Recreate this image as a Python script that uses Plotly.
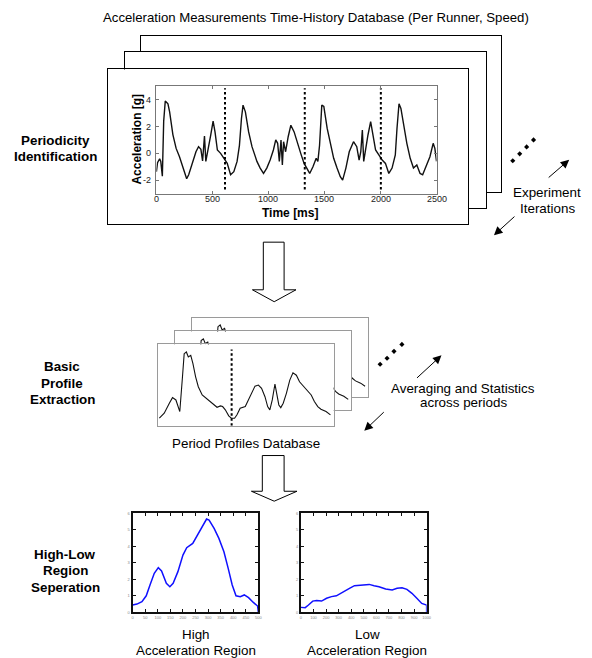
import plotly.graph_objects as go

W, H = 592, 658
FONT = "Arial, Liberation Sans, Helvetica, sans-serif"


def X(px):
    return px / W


def Y(py):
    return 1 - py / H


# ---------------- data ----------------
# acceleration time history (top panel)
sig_t = [0, 10, 29, 39, 53, 65, 79, 103, 118, 147, 176, 206, 235, 259, 270, 288, 323, 353, 376, 397,
         412, 429, 441, 459, 485, 506, 523, 544, 573, 603, 632, 662, 691, 720, 741, 759, 773, 794, 823, 853,
         897, 926, 956, 985, 1015, 1044, 1065, 1082, 1097, 1112, 1124, 1135, 1153, 1176, 1200, 1229, 1259, 1288, 1318, 1347,
         1368, 1397, 1426, 1441, 1456, 1476, 1494, 1524, 1553, 1582, 1612, 1641, 1662, 1691, 1721, 1759, 1788, 1809, 1824, 1838,
         1850, 1868, 1888, 1912, 1935, 1956, 1985, 2015, 2044, 2074, 2103, 2132, 2147, 2165, 2182, 2206, 2235, 2265, 2294, 2324,
         2353, 2376, 2412, 2441, 2470, 2485, 2500]
sig_a = [-1.37, -0.7, -0.4, -0.6, -1.7, 2.4, 3.9, 3.7, 3.1, 1.4, 0.37, -0.25, -1.0, -1.74, -1.9, -1.6, -0.6, 0.12, 0.5, 0.3,
         -0.57, 1.3, -0.6, 0.12, 1.37, 2.4, 1.6, 0.25, 0.0, -0.37, -0.75, -1.6, -1.37, -0.6, 0.6, 2.6, 3.6, 3.1, 1.6, 0.5,
         -0.6, -1.1, -1.5, -1.1, -0.5, 0.25, 1.0, 0.75, -0.6, 1.0, -0.87, 0.87, 0.12, 1.24, 2.1, 1.6, 0.87, 0.0, -0.75, -1.24,
         -1.5, -1.0, -0.37, -0.6, 0.6, 3.6, 3.5, 1.86, 0.6, -0.37, -1.1, -1.74, -2.0, -1.1, 0.12, 0.87, 0.5, -0.5, 0.12, 1.74,
         -0.6, 0.37, 1.37, 2.36, 1.37, 0.25, -0.12, -0.5, -0.75, -1.5, -1.1, -0.12, 1.86, 3.7, 3.35, 2.1, 0.75, -0.37, -1.1, -0.87,
         -1.5, -1.6, -0.87, -0.25, 0.75, 0.37, -0.6]
period_bounds = [612, 1324, 2003]
sig_xticks = [0, 500, 1000, 1500, 2000, 2500]
sig_xticktext = ["0", "500", "1000", "1500", "2000", "2500"]
sig_yticks = [-2, 0, 2, 4]
sig_yticktext = ["-2", "0", "2", "4"]

# one period profile (middle panel)
prof_t = [4, 24, 45, 58, 72, 83, 88, 99, 106, 115, 123, 133, 142, 153, 164, 180, 201, 221, 241, 255,
          264, 275, 289, 300, 313, 323, 336, 357, 370, 384, 397, 411, 424, 438, 449, 458, 468, 479, 487, 495,
          503, 513, 526, 540, 553, 567, 580, 598, 614, 628, 641, 655, 668, 689, 707]
prof_a = [-1.85, -1.42, -0.56, -0.08, -0.28, -1.13, -1.28, 1.71, 3.70, 3.85, 3.42, 3.56, 2.85, 1.71, 0.86, 0.15, -0.22, -0.56, -0.91, -0.79,
          -0.85, -1.13, -1.65, -1.85, -1.85, -1.56, -0.99, -0.85, -0.28, 0.43, 0.91, 1.00, 0.72, 0.00, -0.85, -1.13, -0.28, 1.09, 0.00, -0.71,
          -0.94, -0.56, 0.29, 1.43, 2.05, 1.85, 1.28, 0.86, 0.57, 0.15, -0.42, -0.85, -1.08, -1.28, -1.56]
profile_bound = 301

# high / low acceleration regions (bottom panels)
high_x = [0, 17, 37, 54, 69, 86, 102, 115, 134, 148, 161, 180, 200, 215, 239, 258, 278, 294, 304, 324,
          343, 363, 380, 396, 411, 428, 444, 461, 480, 497, 500]
high_y = [0.44, 0.50, 0.64, 1.0, 1.65, 2.36, 2.70, 2.50, 1.75, 1.55, 1.75, 2.46, 3.46, 3.91, 4.17, 4.67, 5.27, 5.64, 5.58, 5.07,
          4.47, 3.66, 2.66, 1.65, 1.0, 0.95, 1.05, 0.89, 0.6, 0.38, 0.0]
low_x = [0, 34, 60, 94, 125, 164, 204, 243, 282, 334, 386, 426, 465, 504, 543, 582, 621, 674, 726, 765,
         804, 843, 883, 922, 961, 1000, 1000]
low_y = [0.30, 0.28, 0.44, 0.68, 0.72, 0.68, 0.85, 0.95, 1.0, 1.25, 1.45, 1.61, 1.65, 1.65, 1.69, 1.61, 1.55, 1.41, 1.35, 1.45,
         1.49, 1.39, 1.15, 0.85, 0.54, 0.44, 0.0]
high_xticks = list(range(0, 501, 50))
low_xticks = list(range(0, 1001, 100))
region_yticks = [0, 1, 2, 3, 4, 5, 6]

# ---------------- figure ----------------
fig = go.Figure()
layout = {}


def add_axes(n, l, r, t, b, xr, yr, linecolor="black", lw=1.3, **kw):
    sx = "" if n == 1 else str(n)
    xa = dict(domain=[X(l), X(r)], range=xr, anchor="y" + sx, showline=True, mirror=True,
              linecolor=linecolor, linewidth=lw, showgrid=False, zeroline=False,
              showticklabels=False, ticks="", fixedrange=True)
    ya = dict(domain=[Y(b), Y(t)], range=yr, anchor="x" + sx, showline=True, mirror=True,
              linecolor=linecolor, linewidth=lw, showgrid=False, zeroline=False,
              showticklabels=False, ticks="", fixedrange=True)
    xa.update(kw.get("x", {}))
    ya.update(kw.get("y", {}))
    layout["xaxis" + sx] = xa
    layout["yaxis" + sx] = ya
    return "x" + sx, "y" + sx


def empty(ax):
    fig.add_trace(go.Scatter(x=[], y=[], xaxis=ax[0], yaxis=ax[1], hoverinfo="skip", showlegend=False))


# top stack of frames (back to front)
empty(add_axes(1, 141, 505, 33, 190, [0, 1], [0, 1]))
empty(add_axes(2, 125, 490, 49, 207, [0, 1], [0, 1]))
empty(add_axes(3, 108, 472, 67, 223, [0, 1], [0, 1]))

# acceleration signal axes (tick labels drawn as annotations below for tight spacing)
sig_ax = add_axes(
    4, 157, 440, 84, 192, [0, 2500], [-3, 5], linecolor="#777", lw=1,
    x=dict(ticks="inside", ticklen=3, tickcolor="#777", mirror="ticks", tickvals=sig_xticks),
    y=dict(ticks="inside", ticklen=3, tickcolor="#777", mirror="ticks", tickvals=sig_yticks),
)
fig.add_trace(go.Scatter(x=sig_t, y=sig_a, xaxis=sig_ax[0], yaxis=sig_ax[1], mode="lines",
                         line=dict(color="#111", width=1.4), hoverinfo="skip", showlegend=False))
for tb in period_bounds:
    fig.add_trace(go.Scatter(x=[tb, tb], y=[-2.7, 4.85], xaxis=sig_ax[0], yaxis=sig_ax[1], mode="lines",
                             line=dict(color="black", width=2, dash="2.5px,2.5px"),
                             hoverinfo="skip", showlegend=False))

# middle stack of period profiles (back to front)
mid_frames = [(5, 193, 371, 317, 397), (6, 176, 354, 331, 410), (7, 159, 336, 344, 426)]
for n, l, r, t, b in mid_frames:
    ax = add_axes(n, l, r, t, b, [0, 720], [-2.5, 4.5], linecolor="#9a9a9a", lw=1)
    fig.add_trace(go.Scatter(x=prof_t, y=prof_a, xaxis=ax[0], yaxis=ax[1], mode="lines",
                             line=dict(color="#111", width=1.1), hoverinfo="skip", showlegend=False))
    if n == 7:
        fig.add_trace(go.Scatter(x=[profile_bound, profile_bound], y=[-2.5, 4.05], xaxis=ax[0], yaxis=ax[1],
                                 mode="lines", line=dict(color="black", width=2, dash="2.5px,2.5px"),
                                 hoverinfo="skip", showlegend=False))

# bottom region panels
small = dict(size=4, color="#888", family=FONT)
for n, l, r, xs, ys, xt in [(8, 133, 260, high_x, high_y, high_xticks), (9, 303, 430, low_x, low_y, low_xticks)]:
    ax = add_axes(
        n, l, r, 514, 614, [0, xt[-1]], [0, 6], linecolor="#111", lw=2,
        x=dict(showticklabels=True, ticks="inside", ticklen=3, tickwidth=1, tickcolor="#111",
               mirror="ticks", tickvals=xt, tickfont=small),
        y=dict(showticklabels=True, ticks="inside", ticklen=3, tickwidth=1, tickcolor="#111",
               mirror="ticks", tickvals=region_yticks, tickfont=small),
    )
    fig.add_trace(go.Scatter(x=xs, y=ys, xaxis=ax[0], yaxis=ax[1], mode="lines",
                             line=dict(color="#1010ff", width=1.5), hoverinfo="skip", showlegend=False))

# ---------------- annotations ----------------
ann = []


def label(text, x, y, size=13.4, bold=False, angle=0):
    ann.append(dict(text=("<b>%s</b>" % text) if bold else text, x=X(x), y=Y(y), xref="paper", yref="paper",
                    showarrow=False, xanchor="center", yanchor="middle", textangle=angle,
                    font=dict(size=size, color="black", family=FONT)))


# tick labels of the signal axes, placed through the axes' own scales
tfont = dict(size=9, color="#222", family=FONT)
for v, txt in zip(sig_xticks, sig_xticktext):
    ann.append(dict(text=txt, x=v, y=Y(197.5), xref=sig_ax[0], yref="paper", showarrow=False,
                    xanchor="center", yanchor="middle", font=tfont))
for v, txt in zip(sig_yticks, sig_yticktext):
    ann.append(dict(text=txt, x=X(153.5), y=v, xref="paper", yref=sig_ax[1], showarrow=False,
                    xanchor="right", yanchor="middle", font=tfont))

label("Acceleration Measurements Time-History Database (Per Runner, Speed)", 318, 15, size=13.2)
label("Acceleration [g]", 137, 137, size=12, bold=True, angle=-90)
label("Time [ms]", 292, 212, size=12, bold=True)

label("Periodicity", 55, 139, bold=True)
label("Identification", 55, 155, bold=True)
label("Basic", 62, 366, bold=True)
label("Profile", 62, 383, bold=True)
label("Extraction", 62, 400, bold=True)
label("High-Low", 65, 556, bold=True)
label("Region", 65, 572, bold=True)
label("Seperation", 65, 589, bold=True)

label("Experiment", 552, 191)
label("Iterations", 552, 207)
label("Averaging and Statistics", 467, 388)
label("across periods", 467, 403)
label("Period Profiles Database", 248, 444)
label("High", 197, 636)
label("Acceleration Region", 197, 652)
label("Low", 370, 636)
label("Acceleration Region", 370, 652)


def arrow(tail, head):
    ann.append(dict(text="", x=X(head[0]), y=Y(head[1]), xref="paper", yref="paper",
                    ax=tail[0] - head[0], ay=tail[1] - head[1], axref="pixel", ayref="pixel",
                    showarrow=True, arrowhead=2, arrowsize=1.7, arrowwidth=1, arrowcolor="black",
                    standoff=0, startstandoff=0))


arrow((552, 177), (574, 158))
arrow((520, 214), (498, 234))
arrow((419, 379), (445, 355))
arrow((388, 411), (367, 431))

# ---------------- shapes ----------------
shapes = []


def hollow_arrow(xl, xr, top, neck, hl, hr, tip):
    xc = (hl + hr) / 2
    pts = [(xl, top), (xr, top), (xr, neck), (hr, neck), (xc, tip), (hl, neck), (xl, neck)]
    d = "M " + " L ".join("%.5f,%.5f" % (X(a), Y(b)) for a, b in pts) + " Z"
    shapes.append(dict(type="path", path=d, xref="paper", yref="paper", fillcolor="white",
                       line=dict(color="black", width=1)))


hollow_arrow(265, 286, 241, 289, 254, 298, 301)
hollow_arrow(264, 286, 456, 492, 253, 299, 502)


def dots(pts):
    for cx, cy in pts:
        shapes.append(dict(type="path", xref="paper", yref="paper", fillcolor="black", line=dict(width=0),
                           path="M %.5f,%.5f L %.5f,%.5f L %.5f,%.5f L %.5f,%.5f Z" % (
                               X(cx), Y(cy - 2.6), X(cx + 2.6), Y(cy), X(cx), Y(cy + 2.6), X(cx - 2.6), Y(cy))))


dots([(517, 159), (524, 152), (531, 145), (538, 138)])
dots([(383, 364), (390, 358), (397, 351), (405, 344)])

fig.update_layout(**layout)
fig.update_layout(
    width=W, height=H, autosize=False, margin=dict(l=0, r=0, t=0, b=0, pad=0),
    paper_bgcolor="white", plot_bgcolor="white", showlegend=False, hovermode=False,
    annotations=ann, shapes=shapes, font=dict(family=FONT),
)
fig.write_html("out.html", config={"displayModeBar": False})
